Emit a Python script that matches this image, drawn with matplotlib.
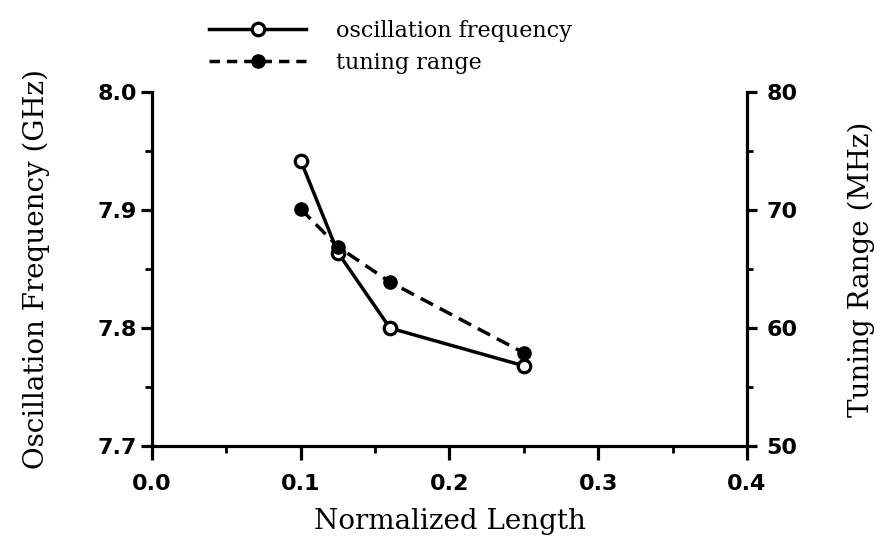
import matplotlib
matplotlib.use("Agg")
import matplotlib.pyplot as plt
from matplotlib.ticker import MultipleLocator
from matplotlib.lines import Line2D

# data
norm_length = [0.1, 0.125, 0.16, 0.25]
osc_freq = [7.942, 7.864, 7.800, 7.768]      # GHz, left axis
tuning_range = [70.1, 66.9, 63.9, 57.9]      # MHz, right axis

x_ticks = [0.0, 0.1, 0.2, 0.3, 0.4]
freq_ticks = [7.7, 7.8, 7.9, 8.0]
tune_ticks = [50, 60, 70, 80]

TICK_FONT = "DejaVu Sans"
LABEL_FONT = "DejaVu Serif"

fig = plt.figure(figsize=(8.86, 5.52), dpi=100)
ax = fig.add_axes([0.1716, 0.192, 0.6714, 0.641])
ax2 = ax.twinx()

ax.plot(norm_length, osc_freq, "-", color="black", lw=2.5,
        marker="o", ms=9, mfc="white", mec="black", mew=2.3, zorder=3)
ax2.plot(norm_length, tuning_range, "--", color="black", lw=2.5,
         dashes=(4, 2.2), marker="o", ms=9.5, mfc="black", mec="black", zorder=3)

ax.set_xlim(0, 0.4)
ax.set_ylim(7.7, 8.0)
ax2.set_ylim(50, 80)
ax.set_xticks(x_ticks)
ax.set_xticklabels([f"{v:.1f}" for v in x_ticks])
ax.set_yticks(freq_ticks)
ax.set_yticklabels([f"{v:.1f}" for v in freq_ticks])
ax2.set_yticks(tune_ticks)
ax2.set_yticklabels([str(v) for v in tune_ticks])
ax.xaxis.set_minor_locator(MultipleLocator(0.05))
ax.yaxis.set_minor_locator(MultipleLocator(0.05))
ax2.yaxis.set_minor_locator(MultipleLocator(5))

for a in (ax, ax2):
    a.spines["top"].set_visible(False)
    for s in ("left", "right", "bottom"):
        a.spines[s].set_linewidth(2.3)
ax.spines["right"].set_visible(False)
ax2.spines["left"].set_visible(False)
ax2.spines["bottom"].set_visible(False)

ax.tick_params(axis="y", which="major", direction="out", length=8, width=2.3,
               labelsize=16, pad=3)
ax.tick_params(axis="x", which="major", direction="out", length=10, width=2.3,
               labelsize=16, pad=10)
ax.tick_params(axis="both", which="minor", direction="out", length=5, width=2)
ax2.tick_params(axis="y", which="major", direction="out", length=7, width=2.3,
                labelsize=16, pad=7)
ax2.tick_params(axis="y", which="minor", direction="out", length=4, width=2)
for lab in ax.get_xticklabels() + ax.get_yticklabels() + ax2.get_yticklabels():
    lab.set_fontfamily(TICK_FONT)
    lab.set_fontweight("bold")

ax.set_xlabel("Normalized Length", fontfamily=LABEL_FONT, fontsize=20, labelpad=10)
ax.set_ylabel("Oscillation Frequency (GHz)", fontfamily=LABEL_FONT, fontsize=20, labelpad=34)
ax2.set_ylabel("Tuning Range (MHz)", fontfamily=LABEL_FONT, fontsize=20, labelpad=36)

handles = [
    Line2D([], [], ls="-", color="black", lw=2.5, marker="o", ms=9,
           mfc="white", mec="black", mew=2.3),
    Line2D([], [], ls="--", color="black", lw=2.5, dashes=(3, 2), marker="o",
           ms=9.5, mfc="black", mec="black"),
]
fig.legend(handles, ["oscillation frequency", "tuning range"],
           loc="upper left", bbox_to_anchor=(0.213, 1.0), frameon=False,
           numpoints=1, handlelength=4.4, handletextpad=1.35, labelspacing=0.45,
           prop={"family": LABEL_FONT, "size": 16})

fig.savefig("out.png", dpi=100)
